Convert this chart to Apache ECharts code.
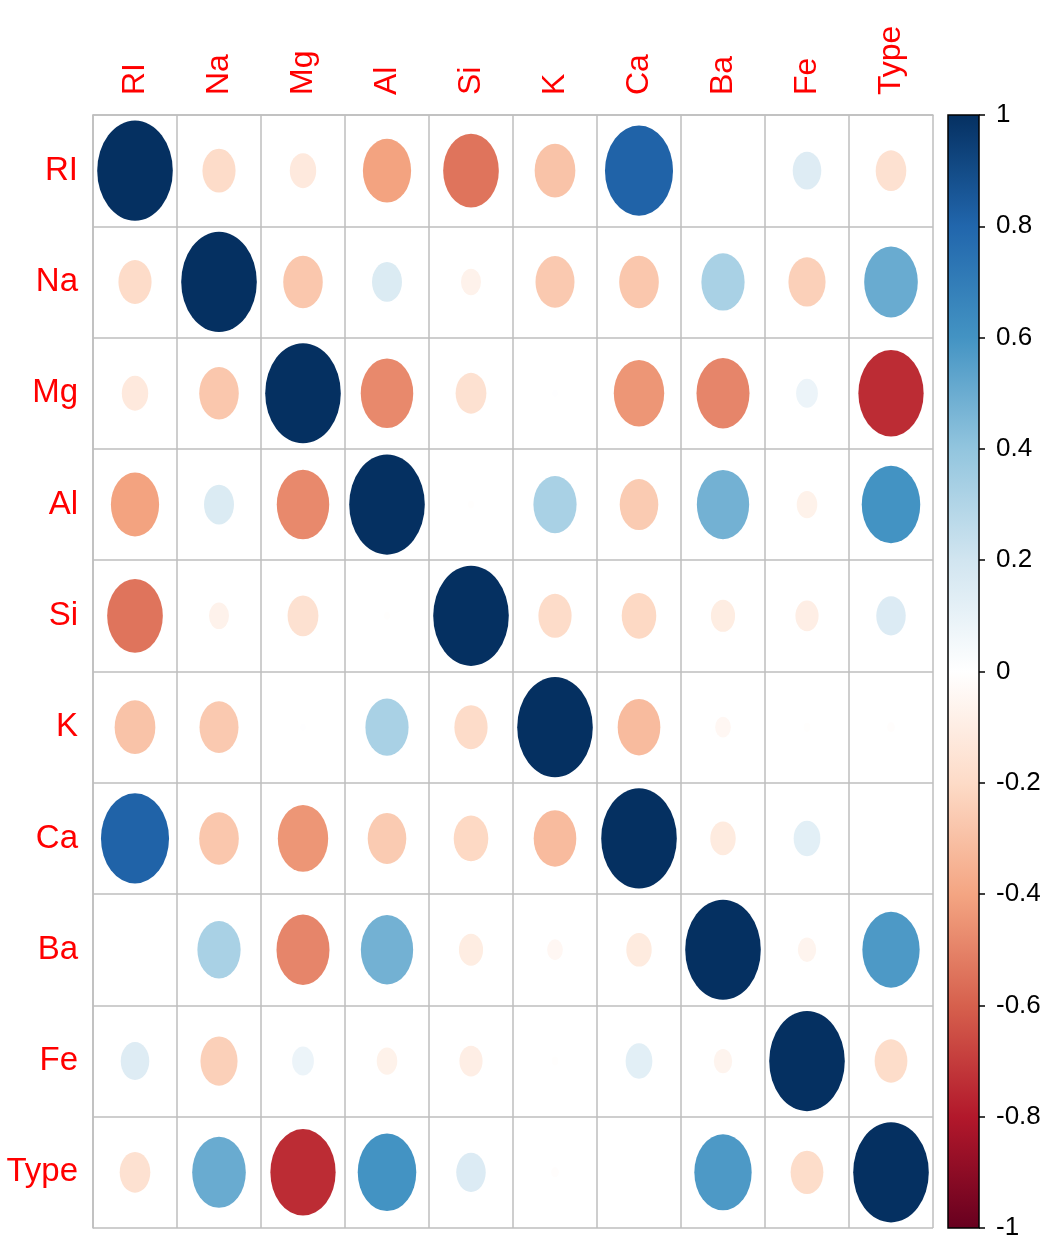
<!DOCTYPE html>
<html>
<head>
<meta charset="utf-8">
<script src="https://cdn.jsdelivr.net/npm/echarts@6/dist/echarts.min.js"></script>
<style>
html,body{margin:0;padding:0;background:#fff;}
#main{width:1048px;height:1245px;}
</style>
</head>
<body>
<div id="main"></div>
<script>
// variables of the Glass data
var vars = ['RI', 'Na', 'Mg', 'Al', 'Si', 'K', 'Ca', 'Ba', 'Fe', 'Type'];

// correlation rows
var corrRI   = [1, -0.192, -0.122, -0.407, -0.542, -0.290, 0.810, -0.0004, 0.143, -0.164];
var corrNa   = [-0.192, 1, -0.274, 0.157, -0.070, -0.266, -0.275, 0.327, -0.241, 0.503];
var corrMg   = [-0.122, -0.274, 1, -0.482, -0.166, 0.005, -0.444, -0.492, 0.083, -0.745];
var corrAl   = [-0.407, 0.157, -0.482, 1, -0.006, 0.326, -0.260, 0.479, -0.074, 0.599];
var corrSi   = [-0.542, -0.070, -0.166, -0.006, 1, -0.193, -0.209, -0.102, -0.094, 0.152];
var corrK    = [-0.290, -0.266, 0.005, 0.326, -0.193, 1, -0.318, -0.043, -0.008, -0.010];
var corrCa   = [0.810, -0.275, -0.444, -0.260, -0.209, -0.318, 1, -0.113, 0.125, 0.001];
var corrBa   = [-0.0004, 0.327, -0.492, 0.479, -0.102, -0.043, -0.113, 1, -0.059, 0.575];
var corrFe   = [0.143, -0.241, 0.083, -0.074, -0.094, -0.008, 0.125, -0.059, 1, -0.188];
var corrType = [-0.164, 0.503, -0.745, 0.599, 0.152, -0.010, 0.001, 0.575, -0.188, 1];

var corrRows = [corrRI, corrNa, corrMg, corrAl, corrSi, corrK, corrCa, corrBa, corrFe, corrType];

// RdBu palette (corrplot COL2), from -1 to 1
var palette = ['#67001F', '#B2182B', '#D6604D', '#F4A582', '#FDDBC7', '#FFFFFF',
               '#D1E5F0', '#92C5DE', '#4393C3', '#2166AC', '#053061'];

var barMin = -1, barMax = 1, barStep = 0.2;

var cellW = 84, cellH = 111.3;

var points = [];
for (var i = 0; i < corrRows.length; i++) {
  for (var j = 0; j < vars.length; j++) {
    points.push([j, i, corrRows[i][j]]);
  }
}

var gradStops = palette.slice().reverse().map(function (c, k, arr) {
  return { offset: k / (arr.length - 1), color: c };
});

var myChart = echarts.init(document.getElementById('main'));
var font = 'Liberation Sans, Arial, sans-serif';
var option = {
  backgroundColor: '#fff',
  animation: false,
  grid: [
    { left: 93, top: 115, width: 840, height: 1113 },
    { left: 948, top: 115, width: 31, height: 1113 }
  ],
  xAxis: [{
    gridIndex: 0,
    type: 'category',
    data: vars,
    position: 'top',
    boundaryGap: true,
    axisLine: { show: true, lineStyle: { color: '#BEBEBE', width: 1.5 } },
    axisTick: { show: false },
    splitLine: { show: true, lineStyle: { color: '#BEBEBE', width: 1.5 } },
    axisLabel: { rotate: -90, color: '#FF0000', fontSize: 32, fontFamily: font, margin: 20 }
  }, {
    gridIndex: 1,
    type: 'category',
    data: [''],
    show: false
  }],
  yAxis: [{
    gridIndex: 0,
    type: 'category',
    data: vars,
    inverse: true,
    boundaryGap: true,
    axisLine: { show: true, lineStyle: { color: '#BEBEBE', width: 1.5 } },
    axisTick: { show: false },
    splitLine: { show: true, lineStyle: { color: '#BEBEBE', width: 1.5 } },
    axisLabel: { color: '#FF0000', fontSize: 33, fontFamily: font, margin: 15 }
  }, {
    gridIndex: 1,
    type: 'value',
    min: barMin,
    max: barMax,
    interval: barStep,
    position: 'right',
    axisLine: { show: false },
    axisTick: { show: true, length: 6, lineStyle: { color: '#000', width: 1.5 } },
    splitLine: { show: false },
    axisLabel: { color: '#000', fontSize: 26, fontFamily: font, margin: 17 }
  }],
  visualMap: {
    show: false,
    type: 'continuous',
    min: barMin,
    max: barMax,
    dimension: 2,
    seriesIndex: 0,
    inRange: { color: palette }
  },
  series: [{
    type: 'scatter',
    xAxisIndex: 0,
    yAxisIndex: 0,
    symbol: 'circle',
    itemStyle: { opacity: 1 },
    symbolSize: function (val) {
      var s = 0.9 * Math.sqrt(Math.abs(val[2]));
      return [cellW * s, cellH * s];
    },
    data: points
  }, {
    type: 'custom',
    xAxisIndex: 1,
    yAxisIndex: 1,
    data: [[0, barMin, barMax]],
    renderItem: function (params, api) {
      var top = api.coord([0, api.value(2)]);
      var bot = api.coord([0, api.value(1)]);
      var cs = params.coordSys;
      return {
        type: 'rect',
        shape: { x: cs.x, y: top[1], width: cs.width, height: bot[1] - top[1] },
        style: {
          fill: new echarts.graphic.LinearGradient(0, 0, 0, 1, gradStops),
          stroke: '#000',
          lineWidth: 1.5
        }
      };
    }
  }]
};
myChart.setOption(option);
window.addEventListener('resize', function () {
  myChart.resize();
});
</script>
</body>
</html>
